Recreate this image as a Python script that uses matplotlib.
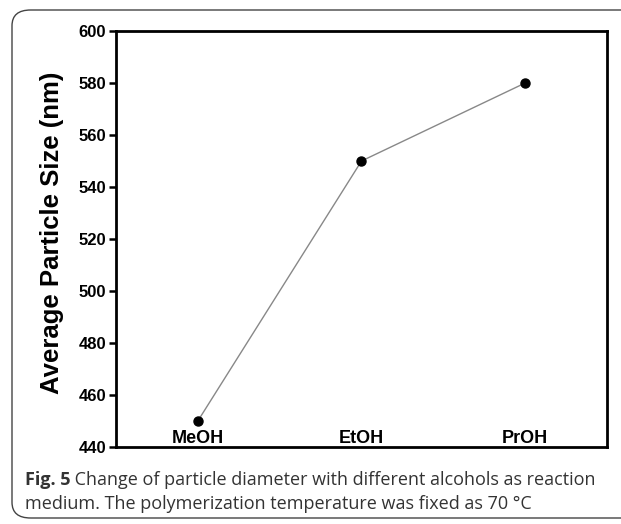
import matplotlib
matplotlib.use("Agg")
import matplotlib.pyplot as plt
from matplotlib.patches import FancyBboxPatch

# data
alcohols = ["MeOH", "EtOH", "PrOH"]
particle_size = [450, 550, 580]
y_ticks = [440, 460, 480, 500, 520, 540, 560, 580, 600]

caption_bold = "Fig. 5"
caption_line1 = " Change of particle diameter with different alcohols as reaction"
caption_line2 = "medium. The polymerization temperature was fixed as 70 \u00b0C"

W, H = 621, 524
fig = plt.figure(figsize=(W / 100, H / 100), dpi=100)

# rounded frame around chart + caption
frame = FancyBboxPatch((12 / W, 6 / H), 640 / W, 508 / H,
                       boxstyle="round,pad=0,rounding_size=0.03",
                       transform=fig.transFigure, fill=False,
                       edgecolor="#444444", linewidth=1.0)
fig.patches.append(frame)

ax = fig.add_axes([116 / W, 1 - 447 / H, 491 / W, 416 / H])
x = list(range(len(alcohols)))
ax.plot(x, particle_size, color="#888888", linewidth=1.0, zorder=2)
ax.plot(x, particle_size, "o", color="black", markersize=6.5, zorder=3)

ax.set_xlim(-0.5, 2.5)
ax.set_ylim(440, 600)
ax.set_yticks(y_ticks)
ax.set_yticklabels([str(v) for v in y_ticks], fontfamily="Liberation Sans",
                   fontweight="bold", fontsize=12)
ax.set_xticks(x)
ax.set_xticklabels(alcohols, fontfamily="Liberation Sans",
                   fontweight="bold", fontsize=13)
ax.tick_params(axis="x", length=0, pad=-12)
ax.tick_params(axis="y", direction="out", length=5, width=1.8, pad=2)

for side in ["left", "right", "top", "bottom"]:
    ax.spines[side].set_linewidth(2.0)
    ax.spines[side].set_color("black")

fig.text(52 / W, 1 - 233 / H, "Average Particle Size (nm)", rotation=90,
         ha="center", va="center", fontfamily="Liberation Sans",
         fontweight="bold", fontsize=18.5)

# caption (bold prefix followed by regular text)
cap_color = "#333333"
cap_size = 13
t = fig.text(25 / W, 1 - 480 / H, caption_bold, fontfamily="Open Sans",
             fontweight="bold", fontsize=cap_size, color=cap_color, va="center")
renderer = fig.canvas.get_renderer()
bb = t.get_window_extent(renderer=renderer)
fig.text(bb.x1 / W, 1 - 480 / H, caption_line1, fontfamily="Open Sans",
         fontsize=cap_size, color=cap_color, va="center")
fig.text(25 / W, 1 - 504 / H, caption_line2, fontfamily="Open Sans",
         fontsize=cap_size, color=cap_color, va="center")

fig.savefig("out.png", dpi=100)
